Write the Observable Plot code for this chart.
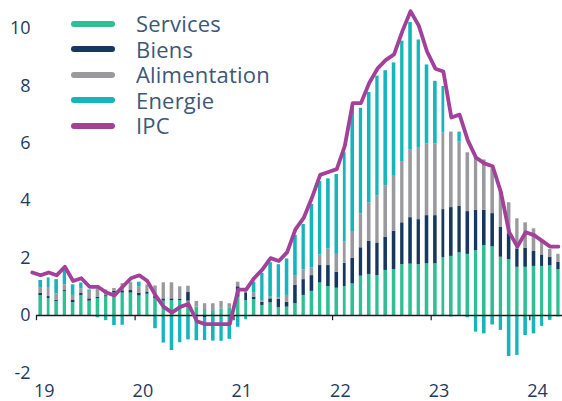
<!DOCTYPE html>
<html><head><meta charset="utf-8">
<script src="https://cdn.jsdelivr.net/npm/d3@7"></script>
<script src="https://cdn.jsdelivr.net/npm/@observablehq/plot@0.6"></script>
<style>
body{margin:0;background:#fff;}
#wrap{position:relative;width:562px;height:401px;font-family:"Open Sans",sans-serif;}
#legend{position:absolute;left:71px;top:11px;}
.row{display:flex;align-items:center;height:25.5px;}
.sw{width:44px;height:6px;border-radius:3px;margin-right:21px;flex:none;}
.lab{display:block;height:25.5px;overflow:visible;font-size:22px;letter-spacing:0.2px;color:#3d5878;line-height:25.5px;white-space:nowrap;}
</style></head><body><div id="wrap"><div id="legend"></div></div>
<script>
// Contributions (pp), monthly Jan 2019 - Apr 2024
const services = [
0.69,0.59,0.49,0.84,0.45,0.70,0.50,0.59,0.65,0.78,0.78,0.78,
0.68,0.74,0.58,0.50,0.52,0.52,0.50,0.29,0.21,0.17,0.23,0.27,
0.64,0.52,0.55,0.35,0.44,0.27,0.29,0.41,0.70,0.84,1.13,1.01,
0.95,1.01,1.10,1.37,1.43,1.39,1.57,1.60,1.77,1.79,1.77,1.80,
1.80,2.01,2.06,2.18,2.13,2.26,2.44,2.39,2.03,1.95,1.68,1.68,
1.71,1.71,1.73,1.60];
const biens = [
0.09,0.07,0.04,0.03,0.09,0.08,0.08,0.05,0.04,0.06,0.08,0.09,
0.10,0.08,0.08,0.08,0.06,0.05,0.30,-0.05,-0.07,-0.04,-0.05,-0.02,
0.36,0.27,0.09,0.11,0.14,0.29,0.17,0.64,0.55,0.55,0.61,0.73,
0.56,0.81,0.90,0.99,1.15,1.14,1.15,1.34,1.46,1.62,1.57,1.68,
1.68,1.68,1.70,1.62,1.49,1.41,1.23,1.16,1.05,0.90,0.64,0.67,
0.52,0.40,0.29,0.26];
const alimentation = [
0.17,0.29,0.22,0.20,0.16,0.15,0.26,0.29,0.20,0.10,0.25,0.26,
0.21,0.24,0.37,0.56,0.56,0.43,0.22,0.20,0.20,0.24,0.26,0.14,
0.16,0.08,0.14,0.06,0.06,0.06,0.24,0.34,0.34,0.27,0.37,0.58,
0.62,0.75,0.90,1.18,1.35,1.63,1.80,1.91,2.13,2.37,2.49,2.50,
2.50,2.67,2.63,2.24,2.05,1.85,1.75,1.56,1.29,1.08,1.05,0.88,
0.79,0.50,0.28,0.27];
const energie = [
0.27,0.36,0.50,0.52,0.37,0.20,0.05,-0.08,-0.18,-0.35,-0.34,0.03,
0.17,-0.04,-0.46,-0.96,-1.22,-0.95,-0.85,-0.83,-0.80,-0.85,-0.85,-0.81,
-0.41,-0.15,0.38,0.95,1.20,1.15,1.27,1.40,1.58,2.21,2.56,2.44,
2.78,3.10,4.32,3.68,3.84,4.18,4.01,3.95,4.20,4.43,3.77,2.75,
2.18,1.62,-0.05,0.35,-0.08,-0.58,-0.64,-0.33,-0.52,-1.43,-1.39,-0.70,
-0.64,-0.38,-0.17,-0.05];
// IPC, Dec 2018 - Apr 2024
const ipc = [1.5,
1.4,1.5,1.4,1.7,1.2,1.3,1.0,1.0,0.8,0.7,1.0,1.3,
1.4,1.2,0.7,0.3,0.1,0.3,0.4,-0.2,-0.3,-0.3,-0.3,-0.3,
0.9,0.9,1.3,1.6,2.0,1.9,2.2,3.0,3.4,4.1,4.9,5.0,
5.1,5.9,7.4,7.4,8.1,8.6,8.9,9.1,9.9,10.6,10.1,9.2,
8.6,8.5,6.9,7.0,6.1,5.5,5.3,5.2,4.3,2.9,2.4,2.9,
2.8,2.6,2.4,2.4];
const components = ["Services","Biens","Alimentation","Energie"];
const compColors = ["#2fbf95","#163860","#9a999e","#14b5bb"];
const ipcLabel = "IPC";
const ipcColor = "#a2409a";
const yearLabels = ["19","20","21","22","23","24"];
const yTicks = [-2,0,2,4,6,8,10];

const start = new Date(Date.UTC(2019,0,1));
const end = new Date(Date.UTC(2024,4,1));
const months = d3.utcMonths(start, end);
const series = [services, biens, alimentation, energie];
const rows = [];
months.forEach((m,i) => components.forEach((c,k) => rows.push({date:m, comp:c, value:series[k][i]})));
const ipcMonths = d3.utcMonths(new Date(Date.UTC(2018,11,1)), end);
const ipcRows = ipcMonths.map((m,i) => ({date:new Date((+m + +d3.utcMonth.offset(m,1))/2), value:ipc[i]}));
const yearDates = d3.utcYears(start, end);

const chart = Plot.plot({
  width:562, height:401,
  marginLeft:36, marginRight:0, marginTop:28, marginBottom:28.6,
  style:{fontFamily:"'Open Sans',sans-serif", fontSize:"18px", fontWeight:500, color:"#1f3a5f", background:"#fff"},
  x:{type:"utc", domain:[start,end], axis:null},
  y:{domain:[-2,10], ticks:yTicks, tickSize:0, tickPadding:6, tickFormat:d=>String(d), label:null},
  color:{domain:components, range:compColors},
  marks:[
    Plot.rectY(rows, {x:"date", interval:d3.utcMonth, y:"value", fill:"comp", order:components, insetLeft:2.4, insetRight:2.4}),
    Plot.ruleY([0], {stroke:"#1a1a1a", strokeWidth:1.5}),
    Plot.ruleX(yearDates, {x:d=>d, y1:0, y2:-0.18, stroke:"#1a1a1a", strokeWidth:1.2}),
    Plot.text(yearDates, {x:d=>d, y:-2, dy:18.5, dx:-2.5, text:(d,i)=>yearLabels[i], textAnchor:"start", fill:"#1f3a5f", fontSize:18, fontWeight:500}),
    Plot.line(ipcRows, {x:"date", y:"value", stroke:ipcColor, strokeWidth:3.8})
  ]
});
const wrap = document.getElementById("wrap");
wrap.insertBefore(chart, wrap.firstChild);
const legend = document.getElementById("legend");
components.concat([ipcLabel]).forEach((c,i) => {
  const row = document.createElement("div"); row.className = "row";
  const sw = document.createElement("div"); sw.className = "sw";
  sw.style.background = i < components.length ? compColors[i] : ipcColor;
  const lab = document.createElement("span"); lab.className = "lab"; lab.textContent = c;
  row.appendChild(sw); row.appendChild(lab); legend.appendChild(row);
});
</script></body></html>
